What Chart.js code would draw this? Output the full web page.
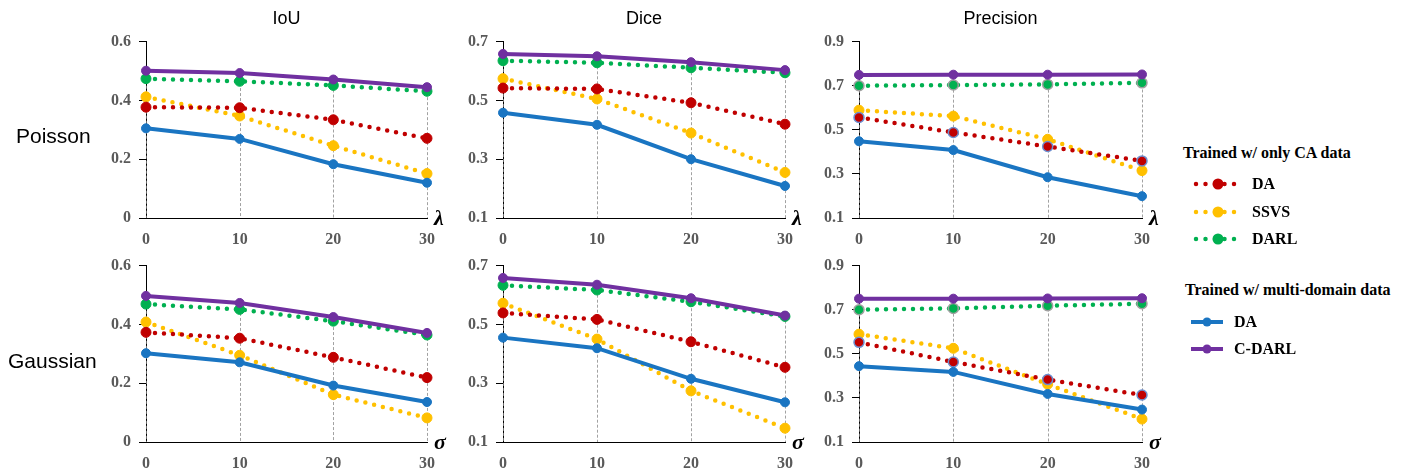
<!DOCTYPE html>
<html><head><meta charset="utf-8">
<script src="https://cdn.jsdelivr.net/npm/chart.js@4"></script>
<style>
body{margin:0;width:1408px;height:471px;background:#fff;position:relative;overflow:hidden}
canvas{position:absolute}
.title{position:absolute;font:18px 'Liberation Sans',Arial,sans-serif;color:#000;transform:translateX(-50%);top:8px;line-height:20px;white-space:nowrap}
.row{position:absolute;font:21px 'Liberation Sans',Arial,sans-serif;color:#000;line-height:24px;white-space:nowrap}
.leg{position:absolute;font:bold 16px 'Liberation Serif','Times New Roman',serif;color:#000;line-height:18px;white-space:nowrap}
svg{position:absolute;left:0;top:0}
</style></head>
<body>
<script>
// ---- data ----
const xValues = [0, 10, 20, 30];
const xTickLabels = [0, 10, 20, 30];
const iouTicks = [0, 0.2, 0.4, 0.6];
const diceTicks = [0.1, 0.3, 0.5, 0.7];
const precTicks = [0.1, 0.3, 0.5, 0.7, 0.9];
const columnTitles = ['IoU', 'Dice', 'Precision'];
const rowTitles = ['Poisson', 'Gaussian'];
const rowSymbols = ['λ', 'σ'];
const seriesNames = ['DA', 'SSVS', 'DARL', 'DA', 'C-DARL'];

// Poisson
const iouPoissonDA_CA   = [0.377, 0.375, 0.334, 0.271];
const iouPoissonSSVS    = [0.412, 0.347, 0.246, 0.151];
const iouPoissonDARL    = [0.474, 0.465, 0.451, 0.431];
const iouPoissonDA_MD   = [0.305, 0.269, 0.183, 0.120];
const iouPoissonCDARL   = [0.501, 0.493, 0.471, 0.445];

const dicePoissonDA_CA  = [0.542, 0.539, 0.492, 0.419];
const dicePoissonSSVS   = [0.574, 0.505, 0.389, 0.255];
const dicePoissonDARL   = [0.635, 0.628, 0.611, 0.594];
const dicePoissonDA_MD  = [0.458, 0.417, 0.300, 0.209];
const dicePoissonCDARL  = [0.658, 0.650, 0.630, 0.603];

const precPoissonDA_CA  = [0.556, 0.488, 0.424, 0.359];
const precPoissonSSVS   = [0.589, 0.562, 0.457, 0.315];
const precPoissonDARL   = [0.700, 0.703, 0.706, 0.713];
const precPoissonDA_MD  = [0.448, 0.408, 0.285, 0.199];
const precPoissonCDARL  = [0.749, 0.750, 0.750, 0.751];

// Gaussian
const iouGaussDA_CA     = [0.373, 0.353, 0.288, 0.219];
const iouGaussSSVS      = [0.408, 0.295, 0.161, 0.082];
const iouGaussDARL      = [0.469, 0.451, 0.411, 0.364];
const iouGaussDA_MD     = [0.302, 0.271, 0.192, 0.136];
const iouGaussCDARL     = [0.497, 0.473, 0.425, 0.371];

const diceGaussDA_CA    = [0.539, 0.517, 0.441, 0.354];
const diceGaussSSVS     = [0.572, 0.450, 0.274, 0.147];
const diceGaussDARL     = [0.633, 0.617, 0.577, 0.527];
const diceGaussDA_MD    = [0.455, 0.419, 0.315, 0.235];
const diceGaussCDARL    = [0.658, 0.635, 0.589, 0.530];

const precGaussDA_CA    = [0.552, 0.463, 0.383, 0.313];
const precGaussSSVS     = [0.589, 0.525, 0.362, 0.204];
const precGaussDARL     = [0.700, 0.706, 0.718, 0.727];
const precGaussDA_MD    = [0.444, 0.418, 0.318, 0.247];
const precGaussCDARL    = [0.750, 0.750, 0.751, 0.752];

// ---- styling / layout ----
const COL = {red:'#C00000', yellow:'#FFC000', green:'#00B050', blue:'#1A75C2', purple:'#7030A0'};
const colAreas = [{l:146,r:427},{l:503,r:785},{l:859,r:1142}];
const rowAreas = [{t:39,b:218},{t:263,b:442}];
const tickFont = {family:"'Liberation Serif','Times New Roman',serif", weight:'bold', size:16};

const panels = [
  [0,0,iouTicks,[iouPoissonDA_CA,iouPoissonSSVS,iouPoissonDARL,iouPoissonDA_MD,iouPoissonCDARL],false],
  [0,1,diceTicks,[dicePoissonDA_CA,dicePoissonSSVS,dicePoissonDARL,dicePoissonDA_MD,dicePoissonCDARL],false],
  [0,2,precTicks,[precPoissonDA_CA,precPoissonSSVS,precPoissonDARL,precPoissonDA_MD,precPoissonCDARL],true],
  [1,0,iouTicks,[iouGaussDA_CA,iouGaussSSVS,iouGaussDARL,iouGaussDA_MD,iouGaussCDARL],false],
  [1,1,diceTicks,[diceGaussDA_CA,diceGaussSSVS,diceGaussDARL,diceGaussDA_MD,diceGaussCDARL],false],
  [1,2,precTicks,[precGaussDA_CA,precGaussSSVS,precGaussDARL,precGaussDA_MD,precGaussCDARL],true]
];

function pts(arr){ return arr.map((v,i)=>({x:xValues[i], y:v})); }

function dotted(label, data, color, ring){
  return {label, data:pts(data), borderColor:color, borderWidth:4.5, borderDash:[0,9], borderCapStyle:'round',
    pointRadius:5, pointBackgroundColor:color, pointBorderColor:ring||color, pointBorderWidth:ring?1.5:1,
    tension:0, fill:false, clip:false};
}
function solid(label, data, color){
  return {label, data:pts(data), borderColor:color, borderWidth:4, pointRadius:4.5,
    pointBackgroundColor:color, pointBorderColor:color, pointBorderWidth:1, tension:0, fill:false, clip:false};
}

const panelPlugin = {
  id:'panelExtras',
  beforeDatasetsDraw(chart){
    const {ctx, chartArea, scales:{x,y}} = chart;
    ctx.save();
    ctx.strokeStyle='#8a8a8a'; ctx.lineWidth=0.8; ctx.setLineDash([3,2]);
    xValues.forEach((xv,i)=>{
      let m=-Infinity;
      chart.data.datasets.forEach(d=>{ m=Math.max(m,d.data[i].y); });
      const px=Math.round(x.getPixelForValue(xv))+0.5;
      ctx.beginPath(); ctx.moveTo(px,y.getPixelForValue(m)); ctx.lineTo(px,chartArea.bottom); ctx.stroke();
    });
    ctx.restore();
  },
  afterDraw(chart){
    const {ctx, chartArea} = chart;
    ctx.save();
    ctx.font="bold italic 22px 'Liberation Serif','Times New Roman',serif";
    ctx.fillStyle='#000'; ctx.textBaseline='middle'; ctx.textAlign='left';
    ctx.fillText(chart.options.plugins.panelExtras.symbol, chartArea.right+7, chartArea.bottom+1);
    ctx.restore();
  }
};

panels.forEach(([row,col,yTicks,s,isPrec])=>{
  const a={l:colAreas[col].l, r:colAreas[col].r, t:rowAreas[row].t, b:rowAreas[row].b};
  const cv=document.createElement('canvas');
  const L=a.l-60, T=a.t-15, W=a.r-a.l+100, H=a.b-a.t+47;
  cv.width=W; cv.height=H; cv.style.left=L+'px'; cv.style.top=T+'px'; cv.style.width=W+'px'; cv.style.height=H+'px';
  document.body.appendChild(cv);
  const datasets=[
    solid(seriesNames[4], s[4], COL.purple),
    solid(seriesNames[3], s[3], COL.blue),
    dotted(seriesNames[2], s[2], COL.green, isPrec?'#a0a0a0':null),
    dotted(seriesNames[0], s[0], COL.red, isPrec?'#6d8fd0':null),
    dotted(seriesNames[1], s[1], COL.yellow, null)
  ];
  new Chart(cv,{
    type:'line',
    data:{datasets},
    plugins:[panelPlugin],
    options:{
      responsive:false, animation:false, devicePixelRatio:1,
      layout:{padding:{left:10,right:40,top:15,bottom:2}},
      plugins:{legend:{display:false}, tooltip:{enabled:false}, panelExtras:{symbol:rowSymbols[row]}},
      scales:{
        x:{type:'linear', min:0, max:30,
           afterBuildTicks:sc=>{ sc.ticks=xTickLabels.map(v=>({value:v})); },
           afterFit:sc=>{ sc.height=30; },
           grid:{drawOnChartArea:false, drawTicks:false},
           border:{color:'#000', width:1},
           ticks:{padding:12, color:'#595959', font:tickFont, maxRotation:0}},
        y:{type:'linear', min:yTicks[0], max:yTicks[yTicks.length-1],
           afterBuildTicks:sc=>{ sc.ticks=yTicks.map(v=>({value:v})); },
           afterFit:sc=>{ sc.width=50; },
           grid:{drawOnChartArea:false, drawTicks:true, tickLength:7, color:'#000', lineWidth:1},
           border:{color:'#000', width:1},
           ticks:{padding:8, color:'#595959', font:tickFont, callback:v=>v===0?'0':Number(v).toFixed(1)}}
      }
    }
  });
});

// titles
columnTitles.forEach((t,i)=>{
  const d=document.createElement('div'); d.className='title'; d.textContent=t;
  d.style.left=((colAreas[i].l+colAreas[i].r)/2)+'px'; document.body.appendChild(d);
});
const rowPos=[{x:16,y:136},{x:8,y:361}];
rowTitles.forEach((t,i)=>{
  const d=document.createElement('div'); d.className='row'; d.textContent=t;
  d.style.left=rowPos[i].x+'px'; d.style.top=(rowPos[i].y-12)+'px'; document.body.appendChild(d);
});

// legend
const legendHeaders=[['Trained w/ only CA data',1183,153],['Trained w/ multi-domain data',1185,290]];
const legendItems=[
  {name:seriesNames[0], color:COL.red, dotted:true, y:184},
  {name:seriesNames[1], color:COL.yellow, dotted:true, y:212},
  {name:seriesNames[2], color:COL.green, dotted:true, y:239},
  {name:seriesNames[3], color:COL.blue, dotted:false, y:322},
  {name:seriesNames[4], color:COL.purple, dotted:false, y:349}
];
legendHeaders.forEach(([t,x,y])=>{
  const d=document.createElement('div'); d.className='leg'; d.textContent=t;
  d.style.left=x+'px'; d.style.top=(y-9)+'px'; document.body.appendChild(d);
});
const NS='http://www.w3.org/2000/svg';
const svg=document.createElementNS(NS,'svg'); svg.setAttribute('width','1408'); svg.setAttribute('height','471');
document.body.appendChild(svg);
legendItems.forEach(it=>{
  const ln=document.createElementNS(NS,'line');
  const x1=it.dotted?1196:1191, x2=it.dotted?1235:1223, cx=it.dotted?1218:1207;
  ln.setAttribute('x1',x1); ln.setAttribute('x2',x2); ln.setAttribute('y1',it.y); ln.setAttribute('y2',it.y);
  ln.setAttribute('stroke',it.color); ln.setAttribute('stroke-width',it.dotted?4.5:4);
  if(it.dotted){ ln.setAttribute('stroke-dasharray','0 9.5'); ln.setAttribute('stroke-linecap','round'); }
  svg.appendChild(ln);
  const c=document.createElementNS(NS,'circle');
  c.setAttribute('cx',cx); c.setAttribute('cy',it.y); c.setAttribute('r',it.dotted?5.5:4.5); c.setAttribute('fill',it.color);
  svg.appendChild(c);
  const d=document.createElement('div'); d.className='leg'; d.textContent=it.name;
  d.style.left=(it.dotted?1252:1234)+'px'; d.style.top=(it.y-9)+'px'; document.body.appendChild(d);
});
</script>
</body></html>
